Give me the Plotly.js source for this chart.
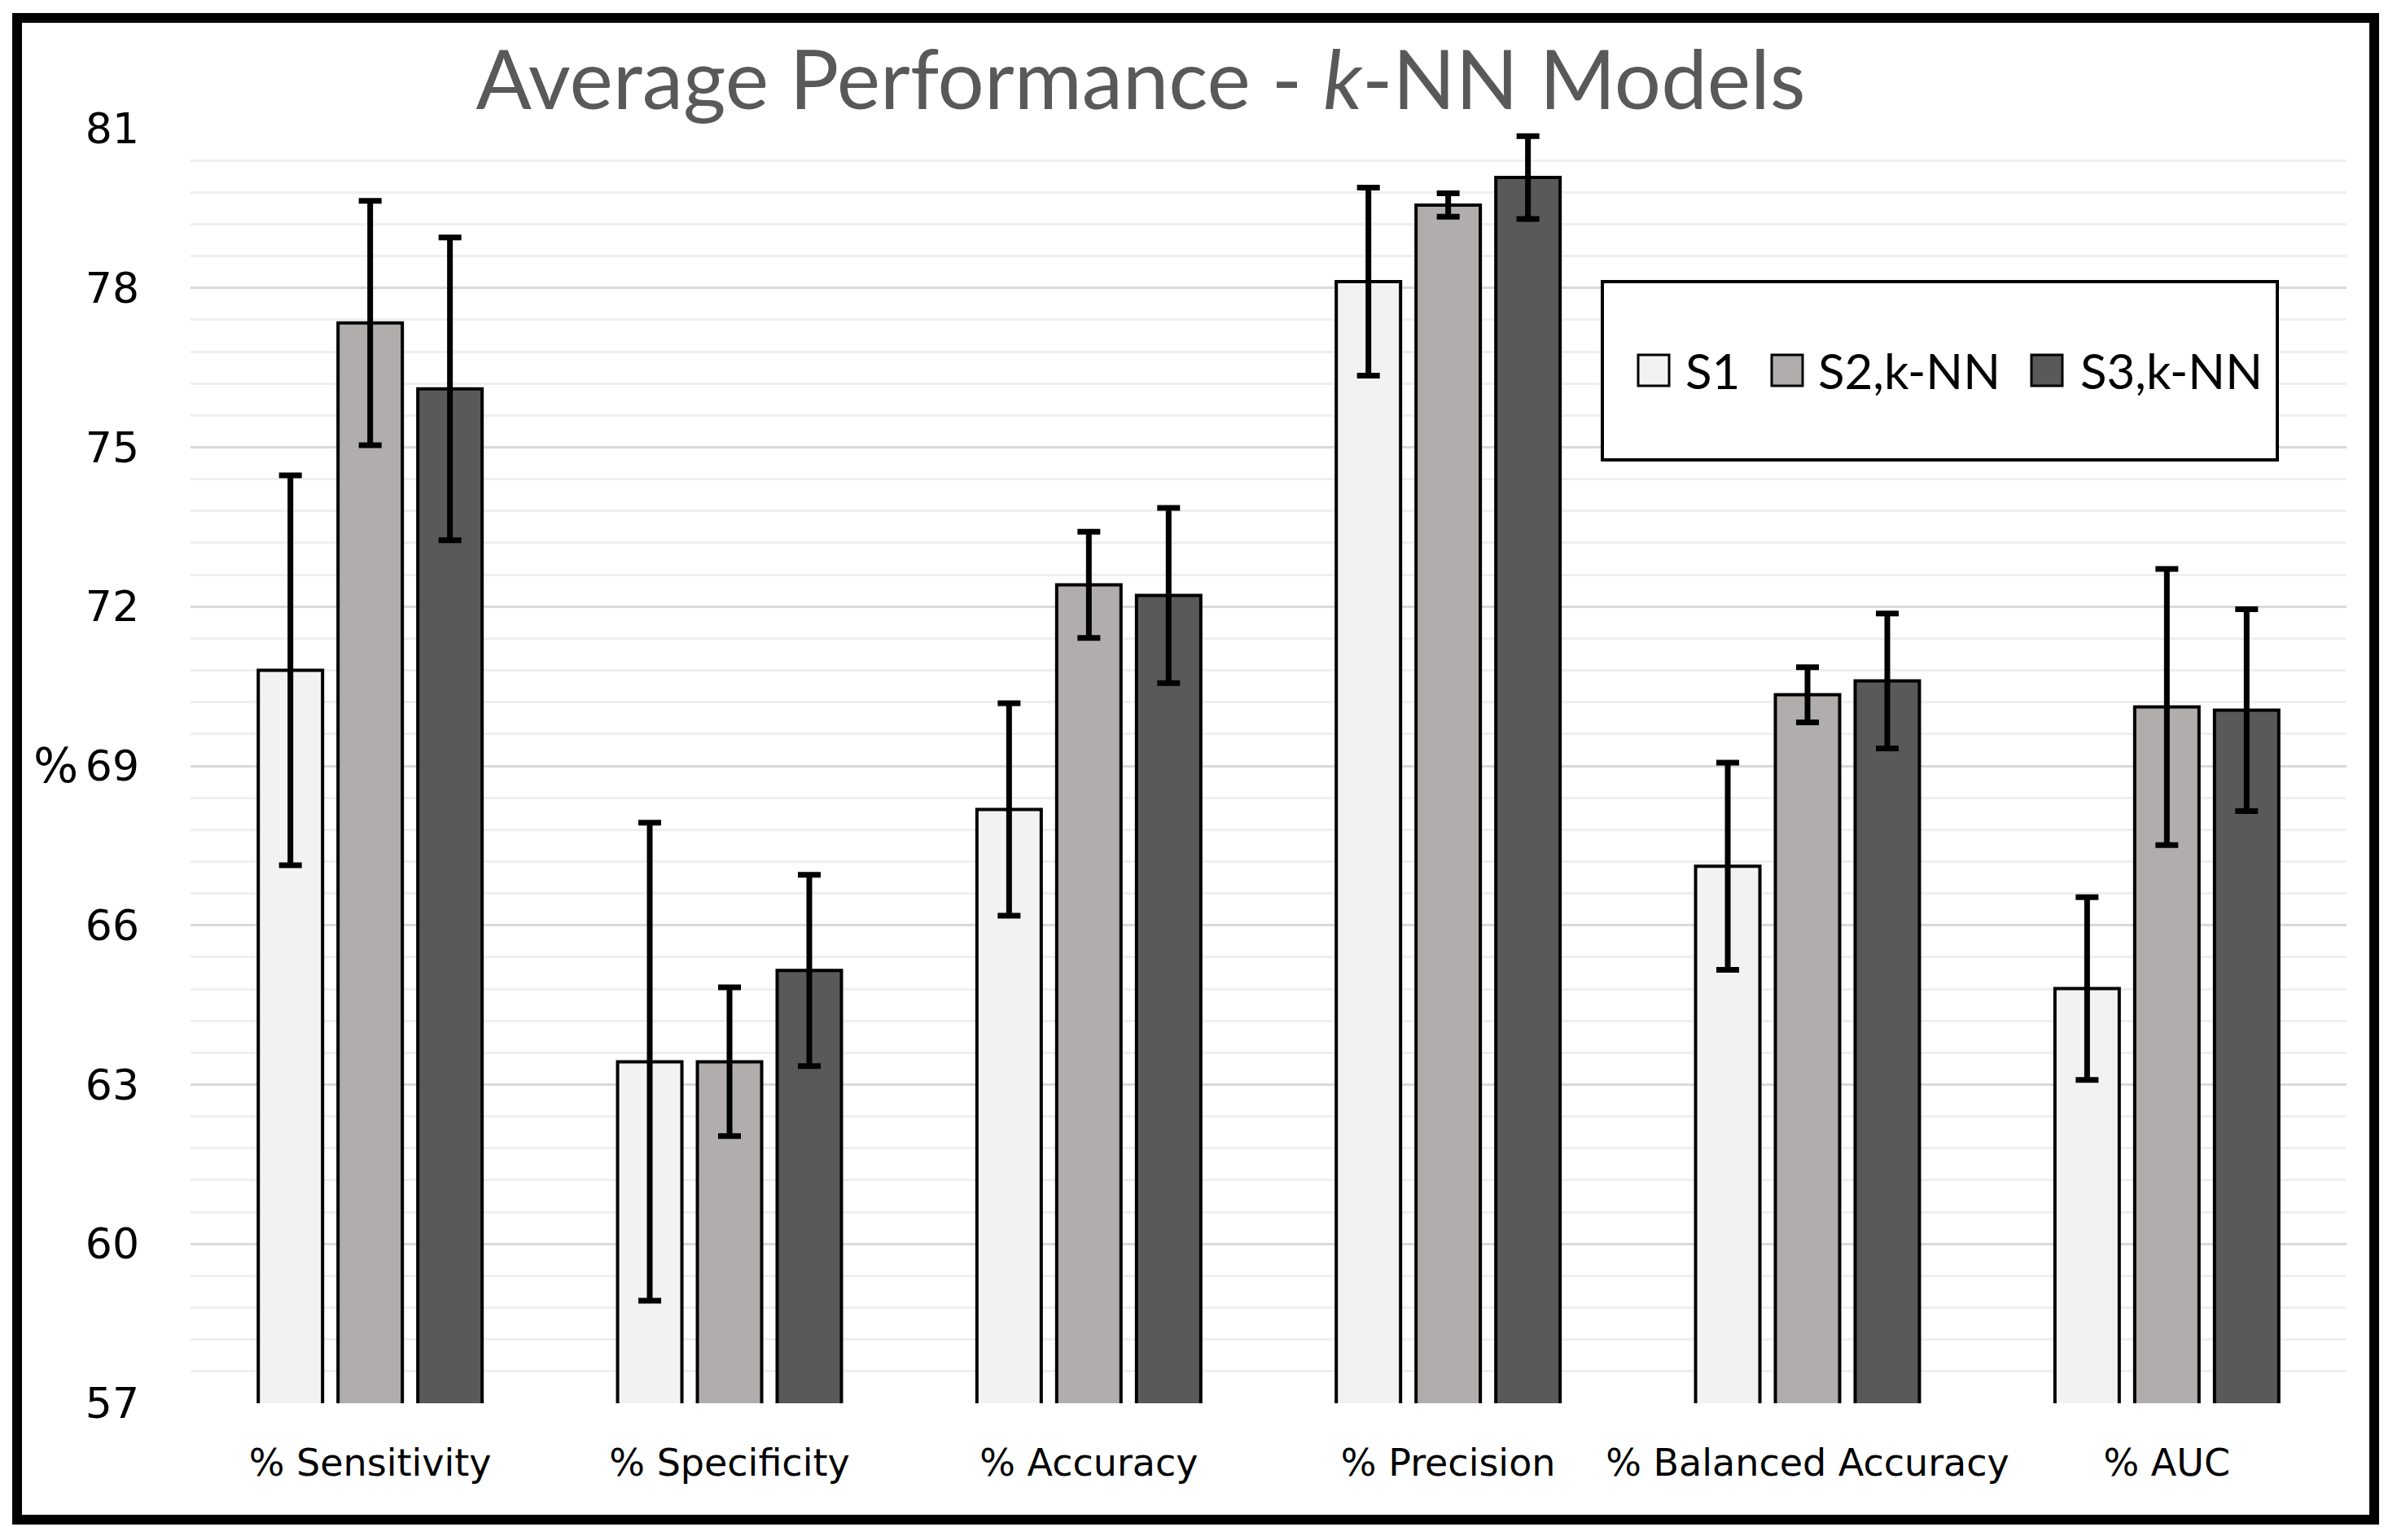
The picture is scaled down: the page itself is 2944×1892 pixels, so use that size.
<!DOCTYPE html>
<html>
<head>
<meta charset="utf-8">
<script src="https://cdn.plot.ly/plotly-3.0.1.min.js"></script>
<style>
html,body{margin:0;padding:0;background:#fff;}
#chart{width:2944px;height:1892px;}
</style>
</head>
<body>
<div id="chart"></div>
<script>
// Categories and series values
const categories = ["% Sensitivity", "% Specificity", "% Accuracy", "% Precision", "% Balanced Accuracy", "% AUC"];
const seriesNames = ["S1", "S2,k-NN", "S3,k-NN"];
const s1Values = [70.8, 63.43, 68.18, 78.12, 67.11, 64.81];
const s1Errors = [3.67, 4.5, 2.0, 1.77, 1.95, 1.72];
const s2Values = [77.34, 63.43, 72.41, 79.56, 70.34, 70.11];
const s2Errors = [2.3, 1.4, 1.0, 0.22, 0.52, 2.6];
const s3Values = [76.1, 65.15, 72.21, 80.08, 70.6, 70.05];
const s3Errors = [2.85, 1.8, 1.65, 0.78, 1.27, 1.9];
const yTickValues = [57, 60, 63, 66, 69, 72, 75, 78, 81];

const colors = ["#f2f2f2", "#b0adac", "#595959"];
const values = [s1Values, s2Values, s3Values];
const errors = [s1Errors, s2Errors, s3Errors];

const W = 2944, H = 1892;
const M = {l: 234, r: 62, t: 158, b: 168};
const PW = W - M.l - M.r, PH = H - M.t - M.b;
const px = x => (x - M.l) / PW;          // pixel x -> paper x
const py = y => (H - M.b - y) / PH;      // pixel y -> paper y

const traces = seriesNames.map((name, i) => ({
  type: "bar",
  name: name,
  x: categories,
  y: values[i],
  base: 0,
  showlegend: false,
  marker: {color: colors[i], line: {color: "#000", width: 4}},
  error_y: {type: "data", array: errors[i], visible: true, color: "#000", thickness: 7, width: 14}
}));

// manual legend (swatch positions in pixels)
const legendSwatchX = [2012, 2176, 2495];
const legendTextX = [2068, 2231, 2553];
const legendShapes = seriesNames.map((n, i) => ({
  type: "rect", xref: "paper", yref: "paper",
  x0: px(legendSwatchX[i]), x1: px(legendSwatchX[i] + 38),
  y0: py(474), y1: py(436),
  line: {color: "#000", width: 3}, fillcolor: colors[i]
}));
const legendAnn = seriesNames.map((n, i) => ({
  text: n, xref: "paper", yref: "paper", x: px(legendTextX[i]), y: py(455),
  xanchor: "left", yanchor: "middle", showarrow: false,
  font: {family: "Lato, 'Open Sans', sans-serif", size: 60, color: "#000"}
}));

const layout = {
  width: W,
  height: H,
  paper_bgcolor: "#fff",
  plot_bgcolor: "#fff",
  margin: M,
  barmode: "group",
  bargap: 0.334,
  bargroupgap: 0.194,
  showlegend: false,
  title: {
    text: "Average Performance - <i>k</i>-NN Models",
    font: {family: "Lato, 'Open Sans', sans-serif", size: 101, color: "#595959"},
    x: 1401/W, xanchor: "center", xref: "container",
    y: 1 - 99/H, yanchor: "middle", yref: "container"
  },
  xaxis: {
    type: "category",
    tickfont: {family: "'DejaVu Sans', Verdana, sans-serif", size: 46, color: "#000"},
    showgrid: false, showline: false, zeroline: false, ticks: "",
    ticklabelstandoff: 42
  },
  yaxis: {
    range: [57, 81],
    tickmode: "array",
    tickvals: yTickValues,
    ticktext: yTickValues.map(String),
    tickfont: {family: "'DejaVu Sans', Verdana, sans-serif", size: 52, color: "#000"},
    showgrid: true, gridcolor: "#d9d9d9", gridwidth: 3,
    zeroline: false, showline: false, ticks: "",
    ticklabelstandoff: 62,
    minor: {dtick: 0.6, tick0: 57, showgrid: true, gridcolor: "#efefef", gridwidth: 3, ticks: ""}
  },
  shapes: [
    // legend box
    {type: "rect", xref: "paper", yref: "paper", x0: px(1968), x1: px(2797), y0: py(565), y1: py(346),
     line: {color: "#000", width: 4}, fillcolor: "#fff", layer: "above"},
    ...legendShapes,
    // outer frame
    {type: "rect", xref: "paper", yref: "paper",
     x0: px(21), x1: px(2916), y0: py(1867), y1: py(22),
     line: {color: "#000", width: 12}, fillcolor: "rgba(0,0,0,0)"}
  ],
  annotations: [
    {text: "%", xref: "paper", yref: "y", x: px(68), y: 69, xanchor: "center", yanchor: "middle",
     showarrow: false, font: {family: "'DejaVu Sans', Verdana, sans-serif", size: 58, color: "#000"}},
    ...legendAnn
  ]
};

Plotly.newPlot("chart", traces, layout, {displayModeBar: false, staticPlot: true});
</script>
</body>
</html>
